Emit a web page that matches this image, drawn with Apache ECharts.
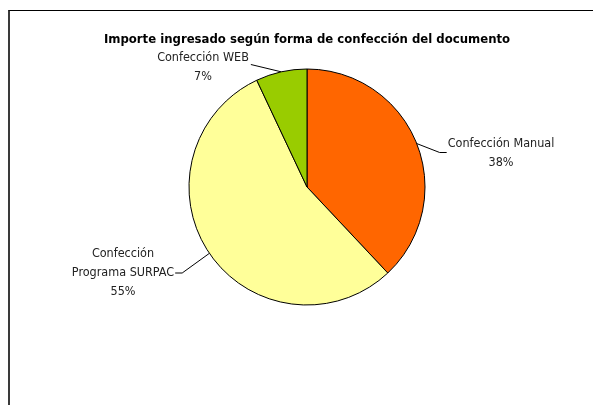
<!DOCTYPE html>
<html>
<head>
<meta charset="utf-8">
<script src="https://cdn.jsdelivr.net/npm/echarts@6/dist/echarts.min.js"></script>
<style>
  html, body { margin: 0; padding: 0; background: #fff; }
  #wrap { position: relative; width: 593px; height: 405px; overflow: hidden; }
  #chart { position: absolute; left: 0; top: 0; width: 593px; height: 405px; }
  #frame {
    position: absolute; left: 8px; top: 10px; width: 700px; height: 500px;
    border-left: 2px solid #3a3a3a; border-top: 1px solid #000; pointer-events: none;
  }
</style>
</head>
<body>
<div id="wrap">
  <div id="chart"></div>
  <div id="frame"></div>
</div>
<script>
const titleText = "Importe ingresado según forma de confección del documento";
const categories = ["Confección Manual", "Confección\nPrograma SURPAC", "Confección WEB"];
const shares = [38, 55, 7];
const sliceColors = ["#FF6600", "#FFFF99", "#99CC00"];

// where each label block sits (centre x, centre y) and which side the leader joins
const labelSpots = [
  [501, 153.5, "left"],
  [123, 273, "right"],
  [203, 67.5, "top"],
];

const font = "'Liberation Sans Narrow', 'DejaVu Sans Condensed', sans-serif";

const myChart = echarts.init(document.getElementById("chart"));

function placeLabel(params) {
  const [cx, cy, side] = labelSpots[params.dataIndex];
  const w = params.labelRect.width;
  const start = params.labelLinePoints[0];
  let pts;
  if (side === "left") {
    const ex = cx - w / 2 - 1;
    pts = [start, [ex - 7, cy - 1], [ex, cy - 1]];
  } else if (side === "right") {
    const ex = cx + w / 2 + 1;
    pts = [start, [ex + 7, cy], [ex, cy]];
  } else {
    const ex = cx + w / 2 + 2;
    pts = [start, [ex, cy - 3], [ex, cy - 3]];
  }
  return {
    x: cx,
    y: cy,
    align: "center",
    verticalAlign: "middle",
    labelLinePoints: pts,
  };
}

const option = {
  animation: false,
  title: {
    text: titleText,
    left: 307,
    top: 33,
    padding: 0,
    textAlign: "center",
    textStyle: {
      fontFamily: font,
      fontSize: 13,
      fontWeight: "bold",
      color: "#000",
    },
  },
  series: [
    {
      type: "pie",
      center: [307, 187],
      radius: 118,
      startAngle: 90,
      clockwise: true,
      data: categories.map((name, i) => ({
        name: name,
        value: shares[i],
        itemStyle: { color: sliceColors[i] },
      })),
      itemStyle: {
        borderColor: "#000",
        borderWidth: 1,
      },
      label: {
        show: true,
        position: "outside",
        formatter: "{b}\n{d}%",
        fontFamily: font,
        fontSize: 12.5,
        lineHeight: 19,
        color: "#222",
        align: "center",
      },
      labelLine: {
        show: true,
        length: 10,
        length2: 10,
        lineStyle: { color: "#000", width: 1 },
      },
      labelLayout: placeLabel,
      emphasis: { disabled: true },
    },
  ],
};

option && myChart.setOption(option);
</script>
</body>
</html>
